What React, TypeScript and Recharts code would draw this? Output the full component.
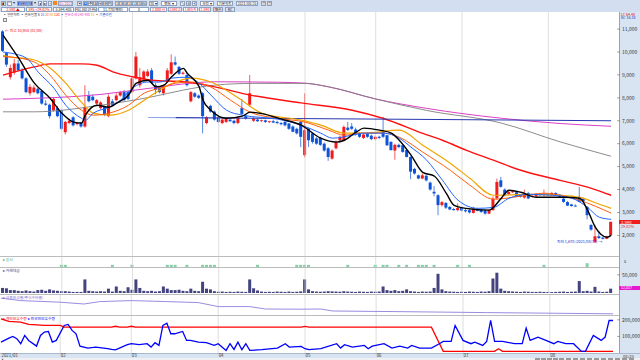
import React from 'react';
import { ComposedChart, Bar, Line, XAxis, YAxis, ReferenceLine } from 'recharts';

const FONT = "'Noto Sans CJK KR','Noto Sans',sans-serif";

// ---- daily candles [open, high, low, close] ----
const janOHLC = [
  [10900, 10950, 10000, 10050], [9950, 10000, 9350, 9450], [8900, 9450, 8800, 9300], [9100, 9700, 9000, 9500],
  [9500, 9650, 9150, 9200], [9200, 9300, 8800, 8850], [8850, 8900, 8200, 8250], [8200, 8600, 8100, 8480],
  [8250, 8550, 8200, 8450], [8400, 8450, 8150, 8200], [8300, 8350, 7700, 7750], [7750, 7900, 7650, 7700],
  [7700, 7750, 7100, 7200], [7450, 8000, 7400, 7950], [7550, 7650, 7150, 7200],
];
const febOHLC = [
  [7450, 7500, 6600, 6650], [6500, 7000, 6400, 6950], [6900, 7100, 6850, 7000], [7150, 7200, 6750, 6800],
  [6850, 6950, 6800, 6900], [6900, 6950, 6700, 6750], [6750, 8550, 6700, 7600], [8100, 8300, 7800, 7850],
  [8050, 8150, 7850, 7900], [7750, 7950, 7700, 7900], [7550, 7850, 7500, 7800], [7600, 7650, 7200, 7250],
  [7200, 8150, 7150, 8050], [7850, 7950, 7650, 7700], [7900, 8200, 7850, 8100], [8100, 8300, 8050, 8250],
  [8250, 8350, 7850, 7900], [8250, 8300, 7900, 7950],
];
const marOHLC = [
  [8250, 8900, 8200, 8850], [8850, 10000, 8800, 9800], [8550, 9300, 8450, 8900], [8800, 9200, 8750, 9150],
  [8950, 9250, 8900, 9150], [9200, 9300, 8600, 8650], [8550, 8650, 8150, 8350], [8450, 8500, 8200, 8250],
  [8200, 8550, 8100, 8500], [8700, 9300, 8650, 9200], [9050, 9900, 9000, 9550], [9550, 9800, 9400, 9450],
  [9350, 9400, 9000, 9050], [9050, 9150, 9000, 9100], [9000, 9100, 8500, 8550], [7850, 8300, 7800, 8250],
  [8200, 8250, 8000, 8050], [8100, 8150, 7950, 8000], [8200, 8250, 6450, 7200], [6900, 7200, 6850, 7150],
  [7650, 7700, 7350, 7400], [7400, 7450, 7000, 7050],
];
const aprOHLC = [
  [7150, 7200, 6900, 6950], [6900, 7100, 6850, 7050], [6950, 7150, 6900, 7100], [7050, 7100, 6950, 6980],
  [7000, 7050, 6850, 6900], [6900, 7200, 6850, 7150], [7550, 7950, 7250, 7300], [7200, 7250, 7050, 7100],
  [7700, 9000, 7600, 8200], [7000, 7150, 6950, 7100], [7050, 7100, 6950, 6980], [7000, 7050, 6950, 7020],
  [7020, 7050, 6900, 6950], [6950, 7000, 6900, 6980], [6980, 7050, 6900, 6920], [6950, 7000, 6850, 6900],
  [6900, 6950, 6800, 6850], [6950, 7000, 6750, 6800], [6880, 6900, 6600, 6650], [6750, 6800, 6500, 6520],
  [6650, 6700, 6400, 6450], [6950, 7000, 5850, 6300],
];
const mayOHLC = [
  [5500, 8200, 5400, 6590], [6650, 6700, 5850, 6150], [6450, 6500, 6000, 6080], [6230, 6300, 5950, 6000],
  [6250, 6300, 5900, 5950], [6000, 6050, 5650, 5700], [5800, 5850, 5250, 5420], [5350, 5750, 5300, 5700],
  [5800, 6150, 5750, 6080], [6150, 6350, 6100, 6300], [6150, 6800, 6100, 6730], [6700, 6950, 6550, 6600],
  [6750, 6900, 6600, 6650], [6620, 6700, 6350, 6410], [6450, 6500, 6250, 6300], [6250, 6450, 6200, 6400],
  [6450, 6500, 6250, 6300], [6350, 6400, 6150, 6200],
];
const junOHLC = [
  [6200, 6350, 6150, 6300], [6300, 6350, 6200, 6250], [6520, 7170, 6250, 6300], [6370, 6400, 5900, 5930],
  [6080, 6100, 5700, 5720], [5700, 6000, 5300, 5950], [5950, 6000, 5800, 5850], [5930, 5950, 5600, 5640],
  [5720, 5750, 5400, 5420], [5420, 5450, 4450, 4780], [4900, 4950, 4650, 4700], [4620, 4650, 4450, 4480],
  [4480, 4700, 4450, 4620], [4600, 4650, 4350, 4400], [4300, 4350, 3950, 4000], [3900, 4150, 3700, 3830],
  [3750, 3800, 2880, 3320], [3320, 3500, 3250, 3450], [3415, 3450, 3150, 3210], [3240, 3280, 3100, 3130],
  [3150, 3200, 3080, 3100], [3100, 3400, 3050, 3200],
];
const julOHLC = [
  [3200, 3250, 3050, 3080], [3100, 3150, 3000, 3050], [3100, 3150, 2950, 3000], [2980, 3250, 2950, 3170],
  [3150, 3200, 3050, 3080], [3100, 3150, 2980, 3020], [3090, 3120, 2900, 2950], [2950, 3150, 2920, 3100],
  [3100, 3700, 3080, 3600], [3620, 4480, 3550, 4330], [4400, 4550, 4080, 4120], [4000, 4050, 3700, 3750],
  [3800, 3950, 3750, 3900], [3880, 3950, 3850, 3920], [3880, 3920, 3680, 3700], [3750, 3800, 3650, 3680],
  [3650, 4000, 3600, 3820], [3850, 3900, 3580, 3610], [3680, 3750, 3650, 3720], [3700, 3850, 3680, 3800],
  [3800, 3850, 3720, 3750], [3750, 4000, 3700, 3820],
];
const augOHLC = [
  [3820, 3850, 3720, 3750], [3750, 3900, 3720, 3850], [3850, 3880, 3750, 3780], [3780, 3800, 3650, 3680],
  [3600, 3650, 3420, 3460], [3450, 3500, 3280, 3300], [3350, 3380, 3250, 3280], [3300, 3350, 3250, 3270],
  [3680, 4110, 3450, 3460], [3600, 3650, 3450, 3480], [3240, 3280, 2700, 2880], [2450, 2500, 2200, 2250],
  [1720, 2440, 1670, 1960], [1960, 2200, 1850, 1880], [1900, 1950, 1820, 1850], [1850, 1980, 1830, 1950],
  [2000, 2600, 1980, 2590],
];

// ---- trading value (거래대금) per day ----
const janVol = [14000, 13000, 8000, 8000, 6000, 5000, 7000, 5000, 4000, 8000, 9000, 6000, 10000, 7000, 6000];
const febVol = [5000, 5000, 4000, 3000, 3000, 3000, 37500, 6000, 5000, 4000, 5000, 4000, 12000, 4000, 18000, 6000, 5000, 16000];
const marVol = [9000, 37500, 14000, 6000, 5000, 6000, 4000, 5000, 18000, 12000, 8000, 8000, 9000, 6000, 5000, 12000, 6000, 5000, 31000, 12000, 10000, 5000];
const aprVol = [3500, 4000, 3000, 3500, 3000, 4000, 3500, 3000, 37500, 13000, 7000, 4000, 3000, 3500, 3000, 4000, 3500, 3000, 4000, 3000, 3500, 4500];
const mayVol = [37500, 10000, 5000, 4000, 3500, 4000, 5000, 4500, 4000, 3500, 5000, 4000, 3500, 3000, 4000, 3500, 3000, 4000];
const junVol = [3500, 4000, 18000, 8000, 6000, 8000, 5000, 6000, 10000, 5000, 4000, 3000, 4000, 3500, 4000, 14000, 53000, 10000, 5000, 4000, 3500, 3000];
const julVol = [3500, 3000, 4000, 3500, 3000, 4000, 3500, 5000, 40000, 56000, 12000, 6000, 5000, 4000, 3500, 3000, 4000, 3500, 3000, 3000, 3500, 3000];
const augVol = [3000, 2500, 3000, 3500, 4000, 3000, 3500, 4000, 33000, 5000, 6000, 4000, 17000, 4000, 3000, 3500, 12000];

// ---- moving averages: [candle index, value] ----
const ma5Pts = [[0, 10740], [4, 9730], [8, 8640], [12, 7985], [15, 7330], [18, 6940], [20, 6900], [21, 7245], [24, 7680], [27, 7590], [29, 7770], [32, 8120], [34, 8640], [37, 8770], [39, 8480], [41, 8550], [43, 8920], [46, 9285], [47, 9065], [50, 8480], [51, 7900], [53, 7460], [57, 7110], [61, 7200], [63, 7375], [66, 7310], [71, 7070], [76, 6810], [81, 6240], [85, 6070], [87, 6150], [90, 6500], [92, 6680], [96, 6590], [99, 6460], [101, 6150], [104, 5500], [107, 4750], [110, 4580], [113, 3830], [115, 3310], [118, 3180], [124, 3100], [125, 3220], [127, 3620], [129, 3970], [132, 3880], [136, 3660], [143, 3660], [147, 3620], [149, 3100], [151, 2350], [154, 1920], [155, 2000]];
const ma10Pts = [[0, 10000], [2, 9950], [6, 9730], [9, 9120], [13, 8420], [16, 7680], [20, 7110], [21, 7025], [23, 7330], [27, 7590], [30, 7900], [33, 8420], [37, 8690], [40, 8690], [43, 8860], [47, 8900], [50, 8640], [53, 8120], [57, 7460], [61, 7245], [70, 7070], [76, 6810], [81, 6460], [84, 6240], [89, 6370], [92, 6460], [97, 6460], [101, 6240], [104, 5850], [108, 5280], [112, 4410], [116, 3530], [121, 3180], [125, 3220], [129, 3620], [134, 3790], [140, 3750], [145, 3620], [149, 3220], [152, 2790], [155, 2700]];
const ma20Pts = [[0, 9800], [2, 9780], [8, 9560], [12, 8990], [16, 8120], [20, 7460], [23, 7245], [27, 7330], [32, 7680], [36, 8205], [40, 8420], [44, 8640], [48, 8690], [53, 8470], [58, 7900], [63, 7375], [70, 7110], [77, 6940], [83, 6590], [87, 6370], [91, 6460], [97, 6460], [101, 6285], [107, 5630], [114, 4840], [119, 4190], [125, 3580], [132, 3710], [138, 3840], [143, 3710], [147, 3530], [151, 3270], [155, 2970]];
const ma30Pts = [[0, 9850], [2, 9780], [8, 9650], [12, 9300], [16, 8640], [20, 7810], [23, 7330], [27, 7245], [32, 7460], [36, 7900], [40, 8340], [44, 8690], [48, 8860], [53, 8690], [60, 7990], [66, 7330], [76, 7025], [81, 6810], [87, 6460], [92, 6460], [101, 6590], [107, 5930], [114, 5150], [119, 4490], [125, 3750], [134, 3790], [142, 3750], [147, 3660], [152, 3360], [155, 3180]];
const ma60Pts = [[0, 8990], [8, 9350], [12, 9480], [20, 9480], [24, 9420], [28, 9135], [33, 8920], [38, 8770], [46, 8700], [54, 8480], [63, 8120], [76, 7780], [89, 7460], [97, 7100], [107, 6450], [112, 6150], [118, 5720], [125, 5280], [132, 4840], [142, 4400], [150, 4050], [155, 3750]];
const ma120Pts = [[0, 7390], [8, 7390], [25, 7680], [38, 8045], [46, 8340], [54, 8555], [64, 8630], [77, 8630], [83, 8480], [95, 7950], [108, 7450], [127, 6900], [142, 6080], [155, 5450]];
const ma240Pts = [[0, 7940], [25, 8150], [37, 8410], [54, 8700], [70, 8680], [77, 8640], [83, 8480], [95, 7950], [108, 7540], [127, 7110], [142, 6880], [155, 6760]];
const trendPts = [[44, 7135], [155, 7000]];
const trendLightPts = [[37, 7145], [44, 7135]];

// ---- lower panels ----
const creditPts = [[0, 2.44], [5, 2.32], [15, 2.24], [21, 2.15], [25, 2.27], [33, 2.32], [42, 2.27], [50, 2.22], [55, 2.02], [63, 2.02], [67, 1.9], [76, 1.89], [81, 1.9], [84, 1.8], [100, 1.77], [123, 1.72], [155, 1.66]];
const holdRedPts = [[0, 206000], [2, 190000], [5, 186000], [7, 172000], [11, 166000], [15, 166000], [16, 156000], [28, 156000], [29, 161000], [30, 156000], [32, 156000], [33, 161000], [34, 156000], [76, 156000], [77, 160000], [78, 156000], [109, 156000], [112, 9600], [125, 9600], [126, 26000], [127, 9600], [155, 9600]];
const holdBluePts = [[0, 65700], [2, 89800], [3, 100000], [4, 86100], [5, 56000], [6, 106000], [7, 75900], [9, 41600], [10, 106000], [11, 126000], [12, 130000], [13, 65700], [14, 75900], [16, 166000], [17, 172000], [18, 136000], [19, 116000], [20, 41600], [22, 29500], [24, 35500], [27, 25900], [28, 21700], [29, 18700], [32, 50000], [33, 56000], [35, 50000], [37, 56000], [38, 35500], [39, 62000], [40, 45800], [41, 166000], [42, 180000], [43, 116000], [44, 116000], [46, 130000], [47, 75900], [48, 75900], [50, 65700], [52, 62000], [54, 45800], [55, 56000], [57, 15700], [58, 56000], [59, 21700], [60, 65700], [61, 19900], [62, 56000], [63, 15700], [66, 19900], [70, 29500], [72, 56000], [73, 35500], [76, 39800], [77, 25900], [78, 19900], [81, 25900], [85, 56000], [86, 29500], [87, 50000], [89, 35500], [92, 45800], [93, 25900], [94, 41600], [97, 56000], [99, 29500], [101, 41600], [103, 29500], [104, 45800], [106, 29500], [109, 29500], [111, 56000], [112, 70000], [114, 70000], [115, 166000], [117, 75900], [119, 56000], [120, 65700], [122, 45800], [123, 70000], [124, 196000], [125, 70000], [127, 70000], [128, 65700], [130, 56000], [132, 56000], [133, 150000], [134, 75900], [136, 95800], [138, 75900], [140, 56000], [141, 70000], [143, 56000], [145, 56000], [147, 9600], [148, 9600], [150, 106000], [152, 75900], [153, 95800], [154, 196000], [155, 196000]];
const noticeIdx = [15, 16, 28, 33, 42, 43, 44, 47, 51, 52, 53, 54, 65, 75, 76, 77, 78, 88, 95, 97, 98, 101, 103, 106, 107, 108, 110, 116, 119, 138];
const bigNoticeIdx = [149];

const monthTicks = [0, 15, 33, 55, 77, 95, 117, 139];
const monthLabels = ['2021/01', '02', '03', '04', '05', '06', '07', '08'];
const priceTicks = [2000, 3000, 4000, 5000, 6000, 7000, 8000, 9000, 10000, 11000];
const volTicks = [25000, 50000];
const holdTicks = [50000, 100000, 150000, 200000];

// ---- build table ----
const ohlc = [...janOHLC, ...febOHLC, ...marOHLC, ...aprOHLC, ...mayOHLC, ...junOHLC, ...julOHLC, ...augOHLC];
const volumes = [...janVol, ...febVol, ...marVol, ...aprVol, ...mayVol, ...junVol, ...julVol, ...augVol];
const N = ohlc.length + 1;
const lookup = (list: number[][]) => {
  const m = new Map<number, number>();
  list.forEach(([i, v]) => m.set(i, v));
  return (i: number) => (m.has(i) ? (m.get(i) as number) : null);
};
const g5 = lookup(ma5Pts), g10 = lookup(ma10Pts), g20 = lookup(ma20Pts), g30 = lookup(ma30Pts);
const g60 = lookup(ma60Pts), g120 = lookup(ma120Pts), g240 = lookup(ma240Pts);
const gT = lookup(trendPts), gTL = lookup(trendLightPts);
const gCr = lookup(creditPts), gHR = lookup(holdRedPts), gHB = lookup(holdBluePts);

const data = Array.from({ length: N }, (_, i) => {
  const k = ohlc[i];
  return {
    i,
    range: k ? [k[2], k[1]] : null,
    o: k ? k[0] : null, h: k ? k[1] : null, l: k ? k[2] : null, c: k ? k[3] : null,
    vol: volumes[i] ?? null,
    notice: noticeIdx.includes(i) ? 1.1 : bigNoticeIdx.includes(i) ? 1.9 : null,
    ma5: g5(i), ma10: g10(i), ma20: g20(i), ma30: g30(i), ma60: g60(i), ma120: g120(i), ma240: g240(i),
    trend: gT(i), trendL: gTL(i),
    credit: gCr(i), holdR: gHR(i), holdB: gHB(i),
  };
});

const fmt = (v: number) => v.toLocaleString('en-US');

const Candle = (p: any) => {
  const { x, y, width, height, payload } = p;
  if (!payload || payload.o == null || x == null || y == null) return <g />;
  const { o, h, l, c } = payload;
  const top = Math.min(y, y + height);
  const hh = Math.abs(height);
  const span = h - l || 1;
  const py = (v: number) => top + ((h - v) / span) * hh;
  const up = c >= o;
  const col = up ? '#f21b1b' : '#0d53d8';
  const bt = py(Math.max(o, c));
  const bb = py(Math.min(o, c));
  const cx = x + width / 2;
  return (
    <g>
      <line x1={cx} x2={cx} y1={top} y2={top + hh} stroke={col} strokeWidth={0.7} />
      <rect x={x} y={bt} width={width} height={Math.max(bb - bt, 0.9)} fill={col} />
    </g>
  );
};

const DateTick = (p: any) => {
  const { x, y, payload } = p;
  const idx = monthTicks.indexOf(payload.value);
  return (
    <text x={x + 0.5} y={y + 4.3} fontSize={4.4} fill="#333" fontFamily={FONT}>
      {monthLabels[idx]}
    </text>
  );
};

const tickStyle = { fontSize: 5, fill: '#333', fontFamily: FONT };
const M = { top: 0, right: 0, left: 1, bottom: 0 };

const gridLines = (key: string) =>
  monthTicks.slice(1).map((m) => <ReferenceLine key={key + m} x={m} stroke="#d6d6d6" strokeWidth={0.8} />);

const T = ({ x, y, c = '#333', s = 4.2, bg, children, w }: any) => (
  <div style={{ position: 'absolute', left: x, top: y, width: w, fontSize: s, lineHeight: 1, color: c, background: bg, whiteSpace: 'nowrap', fontFamily: FONT }}>
    {children}
  </div>
);
const Box = ({ x, y, w, h = 5, bg = '#fff', c = '#222', s = 3.6, children }: any) => (
  <div style={{ position: 'absolute', left: x, top: y, width: w, height: h, background: bg, border: '0.5px solid #8ea2c0', boxSizing: 'border-box', fontSize: s, lineHeight: `${h - 1}px`, color: c, textAlign: 'center', whiteSpace: 'nowrap', overflow: 'hidden', fontFamily: FONT }}>
    {children}
  </div>
);
const HLine = ({ y }: any) => <div style={{ position: 'absolute', left: 0, top: y, width: 619, height: 0.6, background: '#bcbcbc' }} />;

export default function App() {
  return (
    <div style={{ position: 'fixed', left: 0, top: 0, width: 640, height: 360, background: '#fff', overflow: 'hidden', fontFamily: FONT }}>
      {/* toolbar */}
      <div style={{ position: 'absolute', left: 0, top: 0, width: 640, height: 12, background: '#d3dff0' }} />
      <Box x={1} y={0.5} w={5}>◧</Box>
      <Box x={7} y={0.5} w={5}>▤</Box>
      <T x={12.5} y={1} s={3.6}>▾</T>
      <Box x={17} y={0.5} w={16} bg="#2e5cc5" c="#fff">011080</Box>
      <T x={34} y={1} s={3.6}>▾</T>
      <Box x={38} y={0.5} w={4}>◂</Box>
      <Box x={43} y={0.5} w={4}>▸</Box>
      <Box x={48} y={0.5} w={4}>☆</Box>
      <div style={{ position: 'absolute', left: 53, top: 1, width: 4, height: 4, background: '#f08a1e' }} />
      <Box x={58} y={0.5} w={15} c="#c0207a">01/2021</Box>
      <Box x={77} y={0.5} w={5}>▣</Box>
      <Box x={83} y={0.5} w={5} bg="#3a67c9" c="#fff">일</Box>
      <Box x={88} y={0.5} w={5}>주</Box>
      <Box x={93} y={0.5} w={5}>월</Box>
      <Box x={98} y={0.5} w={5}>년</Box>
      <Box x={103} y={0.5} w={5}>분</Box>
      <Box x={108} y={0.5} w={5}>틱</Box>
      <Box x={115} y={0.5} w={4}>1</Box>
      <Box x={119} y={0.5} w={4}>3</Box>
      <Box x={123} y={0.5} w={4}>5</Box>
      <Box x={127} y={0.5} w={5}>10</Box>
      <Box x={132} y={0.5} w={5}>15</Box>
      <Box x={137} y={0.5} w={5}>30</Box>
      <Box x={142} y={0.5} w={5}>60</Box>
      <Box x={149} y={0.5} w={9}>30 ▾</Box>
      <Box x={161} y={0.5} w={16}>캔들 ▾</Box>
      <Box x={180} y={0.5} w={5}>✎</Box>
      <Box x={186} y={0.5} w={5}>⊕</Box>
      <Box x={192} y={0.5} w={5}>⟲</Box>
      <Box x={200} y={0.5} w={14}>설정 ▾</Box>
      <Box x={217} y={0.5} w={16}>기본차트</Box>
      <Box x={236} y={0.5} w={22}>2021/08/25</Box>
      <Box x={261} y={0.5} w={5}>▦</Box>
      <Box x={267} y={0.5} w={5}>▥</Box>

      <Box x={1} y={6.5} w={24} c="#e00">2,590 ▲</Box>
      <Box x={26} y={6.5} w={26} c="#e00">595 +29.82%</Box>
      <Box x={53} y={6.5} w={21}>5,594,405</Box>
      <Box x={75} y={6.5} w={22} s={3}>461,360 19.4%</Box>
      <Box x={98} y={6.5} w={30}>11,770(백만)</Box>
      <Box x={129} y={6.5} w={20}>0</Box>
      <Box x={150} y={6.5} w={17} c="#e00">2,000 시</Box>
      <Box x={168} y={6.5} w={14} c="#e00" s={3.2}>2,590 고</Box>
      <Box x={183} y={6.5} w={15} c="#e00" s={3.2}>1,985 저</Box>
      <Box x={199} y={6.5} w={12} c="#e00">2,590</Box>
      <Box x={213} y={6.5} w={10} bg="#ecd3dc">매수</Box>
      <Box x={225} y={6.5} w={10} bg="#dfe3f5">RC</Box>

      {/* right axis strip & date strip */}
      <div style={{ position: 'absolute', left: 618.5, top: 12, width: 21.5, height: 341, background: '#d9e4f2', borderLeft: '0.8px solid #8fa4c2' }} />
      <div style={{ position: 'absolute', left: 0, top: 352.8, width: 640, height: 5.5, background: '#d9e4f2', borderTop: '0.6px solid #a9b8cc' }} />
      <div style={{ position: 'absolute', left: 0, top: 358.3, width: 640, height: 1.7, background: '#eef0f3' }} />
      {[535, 541, 547, 553, 559, 566, 573, 580, 587, 594, 601, 608, 615, 622, 629].map((x) => (
        <div key={x} style={{ position: 'absolute', left: x, top: 358.2, width: 5, height: 1.8, border: '0.5px solid #999', boxSizing: 'border-box', background: '#fff' }} />
      ))}

      {/* panel separators */}
      <HLine y={256.3} />
      <HLine y={267} />
      <HLine y={294.2} />
      <HLine y={315.4} />

      {/* price panel */}
      <div style={{ position: 'absolute', left: 0, top: 12 }}>
        <ComposedChart width={640} height={244} data={data} margin={M}>
          <XAxis dataKey="i" hide />
          <YAxis orientation="right" width={23} domain={[1100, 11745]} allowDataOverflow ticks={priceTicks} tickFormatter={fmt}
            tick={tickStyle} tickSize={3} tickMargin={2} axisLine={false} tickLine={{ stroke: '#555', strokeWidth: 0.5 }} />
          {gridLines('p')}
          <Bar dataKey="range" barSize={3} isAnimationActive={false} shape={(p: any) => <Candle {...p} />} />
          <Line dataKey="ma240" stroke="#dd3fc4" strokeWidth={1} dot={false} connectNulls type="monotone" isAnimationActive={false} />
          <Line dataKey="ma120" stroke="#7f7f7f" strokeWidth={0.9} dot={false} connectNulls type="monotone" isAnimationActive={false} />
          <Line dataKey="ma60" stroke="#ff1010" strokeWidth={1.4} dot={false} connectNulls type="monotone" isAnimationActive={false} />
          <Line dataKey="trendL" stroke="#90a8e8" strokeWidth={1.1} dot={false} connectNulls type="linear" isAnimationActive={false} />
          <Line dataKey="trend" stroke="#2838b0" strokeWidth={1.1} dot={false} connectNulls type="linear" isAnimationActive={false} />
          <Line dataKey="ma30" stroke="#f2a400" strokeWidth={1.2} dot={false} connectNulls type="monotone" isAnimationActive={false} />
          <Line dataKey="ma20" stroke="#ff5f10" strokeWidth={1} dot={false} connectNulls type="monotone" isAnimationActive={false} />
          <Line dataKey="ma10" stroke="#2266ff" strokeWidth={1} dot={false} connectNulls type="monotone" isAnimationActive={false} />
          <Line dataKey="ma5" stroke="#000" strokeWidth={1.4} dot={false} connectNulls type="monotone" isAnimationActive={false} />
        </ComposedChart>
      </div>

      {/* notice (공시) panel */}
      <div style={{ position: 'absolute', left: 0, top: 257 }}>
        <ComposedChart width={640} height={10} data={data} margin={M}>
          <XAxis dataKey="i" hide />
          <YAxis orientation="right" width={23} domain={[0, 5]} tick={false} tickLine={false} axisLine={false} />
          {gridLines('n')}
          <Bar dataKey="notice" barSize={3} fill="#86cfa8" isAnimationActive={false} />
        </ComposedChart>
      </div>

      {/* volume panel */}
      <div style={{ position: 'absolute', left: 0, top: 268 }}>
        <ComposedChart width={640} height={25} data={data} margin={M}>
          <XAxis dataKey="i" hide />
          <YAxis orientation="right" width={23} domain={[0, 69000]} allowDataOverflow ticks={volTicks} tickFormatter={fmt}
            tick={tickStyle} tickSize={3} tickMargin={2} axisLine={false} tickLine={{ stroke: '#555', strokeWidth: 0.5 }} />
          {gridLines('v')}
          <Bar dataKey="vol" barSize={3} fill="#43437f" isAnimationActive={false} />
        </ComposedChart>
      </div>

      {/* credit panel */}
      <div style={{ position: 'absolute', left: 0, top: 295 }}>
        <ComposedChart width={640} height={20} data={data} margin={M}>
          <XAxis dataKey="i" hide />
          <YAxis orientation="right" width={23} domain={[1.6, 2.6]} allowDataOverflow ticks={[2.5]} tickFormatter={(v: number) => v.toFixed(2)}
            tick={tickStyle} tickSize={3} tickMargin={2} axisLine={false} tickLine={{ stroke: '#555', strokeWidth: 0.5 }} />
          {gridLines('c')}
          <Line dataKey="credit" stroke="#9a8ce0" strokeWidth={1} dot={false} connectNulls type="linear" isAnimationActive={false} />
        </ComposedChart>
      </div>

      {/* holdings panel with date axis */}
      <div style={{ position: 'absolute', left: 0, top: 316 }}>
        <ComposedChart width={640} height={43} data={data} margin={M}>
          <XAxis dataKey="i" ticks={monthTicks} interval={0} tick={<DateTick />} height={6} tickSize={0} tickMargin={0} axisLine={false} tickLine={false} />
          <YAxis orientation="right" width={23} domain={[0, 223000]} allowDataOverflow ticks={holdTicks} tickFormatter={fmt}
            tick={tickStyle} tickSize={3} tickMargin={2} axisLine={false} tickLine={{ stroke: '#555', strokeWidth: 0.5 }} />
          {gridLines('h')}
          <Line dataKey="holdR" stroke="#ff0000" strokeWidth={1.3} dot={false} connectNulls type="linear" isAnimationActive={false} />
          <Line dataKey="holdB" stroke="#0000ff" strokeWidth={1.3} dot={false} connectNulls type="linear" isAnimationActive={false} />
        </ComposedChart>
      </div>

      {/* texts */}
      <T x={3} y={13.2} s={3.4}>
        ▪ 일반차트 ▪ 골든일봉 <span style={{ color: '#000' }}>5</span> <span style={{ color: '#2266ff' }}>10</span>{' '}
        <span style={{ color: '#ff5f10' }}>20</span> <span style={{ color: '#f2a400' }}>60</span> <span style={{ color: '#ff1010' }}>120</span>{' '}
        ▪ <span style={{ color: '#dd3fc4' }}>골든추세 240 480</span> <span style={{ color: '#f2a400' }}>15</span> ▪ <span style={{ color: '#2838b0' }}>기준라인</span>
      </T>
      <div style={{ position: 'absolute', left: 3, top: 18, width: 4, height: 3.5, border: '0.5px solid #888', background: '#eee', boxSizing: 'border-box' }} />
      <T x={5} y={29} s={3.8} c="#f01010">← 최고 10,950 (01/08)</T>
      <T x={557} y={239.8} s={3.8} c="#2a2ad0">최저 1,670 (2021/08/19) →</T>
      <T x={621} y={12.6} s={3.6} c="#e01010">LC 64.40</T>
      <T x={621} y={16.2} s={3.6} c="#2040c0">BC 16.38</T>
      <div style={{ position: 'absolute', left: 619, top: 219.5, width: 21, height: 4.6, background: '#f21b1b', color: '#fff', fontSize: 4.2, lineHeight: '4.6px', paddingLeft: 2, boxSizing: 'border-box', fontFamily: FONT }}>2,590</div>
      <T x={621} y={224.8} s={3.8} c="#f21b1b">29.82%</T>
      <T x={3} y={258.3} s={3.8} c="#3aa070">▸ 공시</T>
      <T x={624} y={260} s={3.8}>5</T>
      <T x={3} y={269.2} s={3.8} c="#3a3a80">▸ 거래대금</T>
      <div style={{ position: 'absolute', left: 619, top: 286, width: 21, height: 4, background: '#e619d0', color: '#fff', fontSize: 3.6, lineHeight: '4px', paddingLeft: 2, boxSizing: 'border-box', fontFamily: FONT }}>12,017</div>
      <T x={3} y={296} s={3.8} c="#7a62d0">▸ 신용잔고율(주식수비율)</T>
      <T x={3} y={317.2} s={3.8} c="#ee0000">▸ 개인보유수량 <span style={{ color: '#0000ee' }}>▸ 외국인보유수량</span></T>
      <T x={623} y={353.8} s={4.2}>08/25</T>
      <T x={2} y={358} s={3}>▸</T>
    </div>
  );
}
